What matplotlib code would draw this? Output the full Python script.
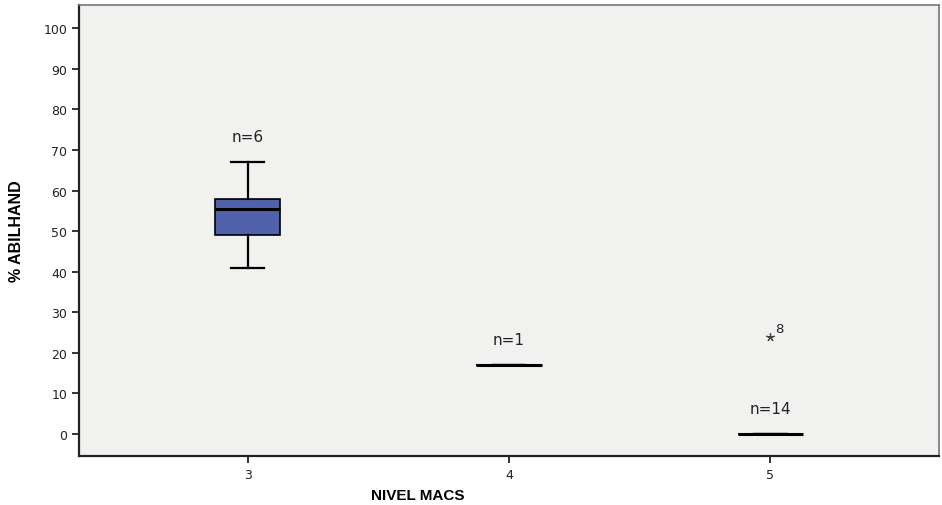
import matplotlib.pyplot as plt

# datos
niveles = [3, 4, 5]
n_casos = [6, 1, 14]
minimos = [41, 17, 0]
q1 = [49, 17, 0]
medianas = [55.5, 17, 0]
q3 = [58, 17, 0]
maximos = [67, 17, 0]
atipicos = [[], [], [24]]
etiquetas_atipicos = [[], [], ["8"]]
y_ticks = list(range(0, 101, 10))

plt.rcParams['font.family'] = ['Liberation Sans', 'DejaVu Sans']

fig = plt.figure(figsize=(9.42, 5.06), dpi=100)
fig.patch.set_facecolor('white')
ax = fig.add_axes([79 / 942, 49 / 506, 860 / 942, 451 / 506])
ax.set_facecolor('#f1f1f0')

stats = []
for i in range(len(niveles)):
    stats.append({
        'med': medianas[i], 'q1': q1[i], 'q3': q3[i],
        'whislo': minimos[i], 'whishi': maximos[i],
        'fliers': atipicos[i], 'label': str(niveles[i]),
    })

ax.bxp(stats, positions=niveles, widths=0.25, patch_artist=True,
       boxprops=dict(facecolor='#5162ad', edgecolor='black', linewidth=1.2),
       medianprops=dict(color='black', linewidth=2.2),
       whiskerprops=dict(color='black', linewidth=1.6),
       capprops=dict(color='black', linewidth=1.6),
       capwidths=0.125,
       flierprops=dict(marker=(5, 2, 0), markersize=6, markeredgecolor='#444444',
                       markeredgewidth=0.9, linestyle='none'))

# etiquetas n= y numero de caso atipico (letra ancha, como en SPSS)
fuente_ancha = ['DejaVu Sans']
for i, x in enumerate(niveles):
    ax.text(x, maximos[i] + 4.5, 'n=%d' % n_casos[i], ha='center', va='bottom',
            fontsize=11, color='#222222', family=fuente_ancha)
    for v, lab in zip(atipicos[i], etiquetas_atipicos[i]):
        ax.text(x + 0.02, v + 0.5, lab, ha='left', va='bottom',
                fontsize=9.5, color='#222222', family=fuente_ancha)

ax.set_xlim(2.354, 5.646)
ax.set_ylim(-5.4, 105.7)
ax.set_yticks(y_ticks)
ax.set_xticks(niveles)
ax.set_xticklabels([str(n) for n in niveles])
ax.tick_params(axis='both', labelsize=9, colors='#222222', length=5, width=1.3)
for lab in ax.get_xticklabels() + ax.get_yticklabels():
    lab.set_family(fuente_ancha)

for s in ['left', 'bottom']:
    ax.spines[s].set_linewidth(1.6)
    ax.spines[s].set_color('#222222')
for s in ['top', 'right']:
    ax.spines[s].set_linewidth(1.2)
    ax.spines[s].set_color('#777777')

ax.set_xlabel('NIVEL MACS', fontsize=11, fontweight='bold')
ax.xaxis.set_label_coords(0.394, -0.07)
ax.set_ylabel('% ABILHAND', fontsize=11.5, fontweight='bold', labelpad=14)

fig.savefig('out.png', dpi=100)
